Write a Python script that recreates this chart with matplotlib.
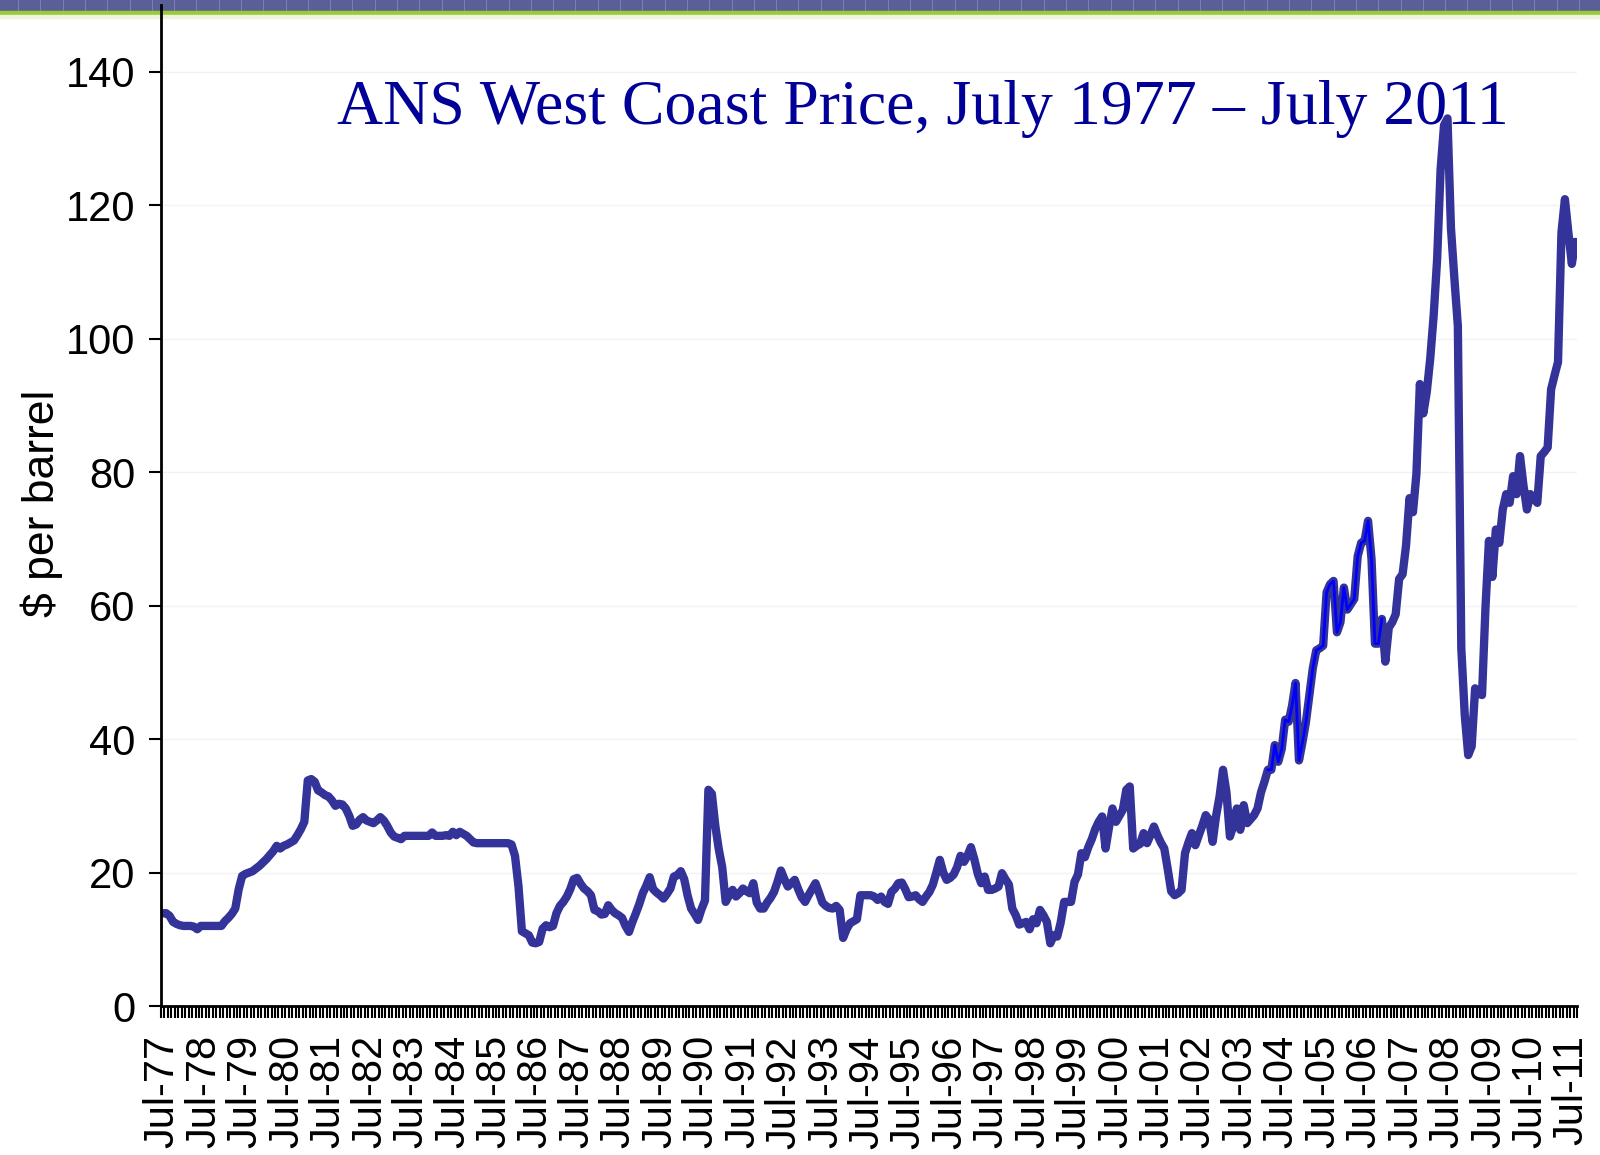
import numpy as np
import pandas as pd
import matplotlib
matplotlib.use('Agg')
import matplotlib.pyplot as plt
from matplotlib.patches import Rectangle
from matplotlib.lines import Line2D

# monthly ANS West Coast price ($/bbl), starting Jul-77
price_77_86 = [13.9, 13.9, 13.5, 12.6, 12.3, 12.1, 12.0, 12.0, 12.0, 11.9, 11.5, 12.0,
               12.0, 12.0, 12.0, 12.0, 12.0, 12.0, 12.7, 13.2, 13.8, 14.6, 17.5, 19.5,
               19.8, 20.0, 20.2, 20.6, 21.0, 21.5, 22.0, 22.6, 23.2, 24.0, 23.6, 24.0,
               24.2, 24.5, 24.8, 25.6, 26.5, 27.6, 33.8, 34.0, 33.6, 32.3, 32.0, 31.6,
               31.4, 30.8, 30.0, 30.3, 30.2, 29.6, 28.5, 27.0, 27.2, 27.9, 28.3, 27.8,
               27.6, 27.4, 27.8, 28.3, 27.8, 27.0, 26.0, 25.4, 25.2, 25.0, 25.5, 25.5,
               25.5, 25.5, 25.5, 25.5, 25.5, 25.5, 26.0, 25.5, 25.5, 25.5, 25.6, 25.5,
               26.1, 25.6, 26.1, 25.8, 25.5, 25.0, 24.5, 24.4, 24.4, 24.4, 24.4, 24.4,
               24.4, 24.4, 24.4, 24.4, 24.4, 24.2, 22.5, 18.0, 11.2, 10.9, 10.6, 9.5]
price_86_95 = [9.4, 9.6, 11.6, 12.1, 11.8, 12.0, 13.9, 15.0, 15.6, 16.4, 17.5, 19.0,
               19.2, 18.3, 17.6, 17.2, 16.6, 14.4, 14.2, 13.7, 13.8, 15.1, 14.4, 13.9,
               13.6, 13.2, 12.0, 11.1, 12.6, 13.9, 15.3, 16.9, 18.0, 19.3, 17.5, 17.0,
               16.6, 16.1, 16.8, 17.6, 19.4, 19.6, 20.2, 19.0, 16.5, 14.6, 13.8, 12.9,
               14.5, 15.8, 32.4, 31.8, 27.0, 23.5, 20.8, 15.6, 16.6, 17.4, 16.4, 16.9,
               17.6, 17.2, 16.9, 18.4, 15.5, 14.6, 14.6, 15.5, 16.2, 17.1, 18.6, 20.3,
               19.0, 17.9, 18.4, 18.9, 17.5, 16.3, 15.6, 16.6, 17.5, 18.4, 17.0, 15.5,
               15.0, 14.7, 14.6, 15.0, 14.4, 10.2, 11.5, 12.4, 12.7, 13.0, 16.6, 16.6,
               16.6, 16.6, 16.4, 15.9, 16.4, 15.6, 15.3, 17.1, 17.6, 18.4, 18.5, 17.5]
price_95_04 = [16.3, 16.4, 16.6, 16.0, 15.6, 16.4, 17.1, 18.2, 20.0, 21.9, 20.0, 18.9,
               19.2, 19.7, 20.8, 22.5, 21.6, 22.5, 23.8, 22.0, 19.8, 18.4, 19.4, 17.4,
               17.4, 17.6, 17.9, 19.9, 19.0, 18.2, 14.6, 13.6, 12.2, 12.4, 12.6, 11.5,
               13.0, 12.4, 14.4, 13.6, 12.6, 9.4, 10.6, 10.4, 12.5, 15.6, 15.6, 15.6,
               18.6, 19.7, 22.9, 22.3, 23.8, 25.0, 26.5, 27.6, 28.4, 23.6, 26.8, 29.6,
               27.6, 28.5, 29.4, 32.4, 32.9, 23.6, 24.0, 24.3, 25.9, 24.4, 25.6, 26.9,
               25.6, 24.5, 23.6, 20.5, 17.2, 16.6, 16.9, 17.4, 22.9, 24.5, 25.9, 24.1,
               25.6, 27.0, 28.6, 27.9, 24.6, 28.5, 31.4, 35.4, 32.0, 25.4, 27.0, 29.6,
               26.4, 30.1, 27.4, 28.0, 28.6, 29.6, 32.0, 33.6, 35.4, 35.4, 39.1, 36.6]
price_04_11 = [38.5, 42.9, 42.6, 45.0, 48.4, 36.8, 39.5, 42.5, 46.5, 50.6, 53.3, 53.6,
               54.0, 62.0, 63.2, 63.7, 56.0, 57.5, 62.7, 59.4, 60.2, 61.0, 67.4, 69.4,
               69.7, 72.7, 67.0, 54.3, 54.3, 58.0, 51.6, 56.7, 57.5, 58.7, 64.0, 64.7,
               69.0, 76.1, 74.0, 79.7, 93.2, 88.8, 92.0, 97.0, 103.5, 111.9, 125.3, 132.0,
               133.0, 116.6, 109.0, 101.9, 53.6, 43.6, 37.6, 38.9, 47.6, 46.8, 46.6, 59.7,
               69.7, 64.3, 71.4, 69.4, 74.4, 76.7, 75.4, 79.4, 76.7, 82.4, 78.0, 74.4,
               76.7, 76.0, 75.4, 82.4, 83.0, 83.7, 92.4, 94.5, 96.5, 115.9, 120.9, 115.9,
               111.2, 114.5]

prices = np.array(price_77_86 + price_86_95 + price_95_04 + price_04_11)
months = pd.date_range('1977-07-01', periods=len(prices), freq='MS')
x = np.arange(len(prices))
year_labels = [d.strftime('%b-%y') for d in months[::12]]
y_ticks = [0, 20, 40, 60, 80, 100, 120, 140]
title = 'ANS West Coast Price, July 1977 \u2013 July 2011'

W, H = 1600, 1155
fig = plt.figure(figsize=(W / 100, H / 100), dpi=100)

# slide header stripe
fig.add_artist(Rectangle((0, 1 - 11 / H), 1, 11 / H, transform=fig.transFigure,
                         color='#5b5f97', zorder=0))
for xs in np.arange(18, W, 22.3):
    fig.add_artist(Line2D([xs / W, xs / W], [1 - 11 / H, 1], transform=fig.transFigure,
                          color='#7b7fb0', lw=0.8, zorder=0))
fig.add_artist(Rectangle((0, 1 - 15 / H), 1, 4 / H, transform=fig.transFigure,
                         color='#99cc33', zorder=0))
fig.add_artist(Rectangle((0, 1 - 18 / H), 1, 3 / H, transform=fig.transFigure,
                         color='#eef3e0', zorder=0))

ax = fig.add_axes([161 / W, 1 - 1006 / H, (1577 - 161) / W, (1006 - 5) / H])
ax.set_facecolor('none')

ax.plot(x, prices, color='#333399', lw=6, solid_joinstyle='round',
        solid_capstyle='round', zorder=3)
ax.plot(x[320:354], prices[320:354], color='#0000ff', lw=2,
        solid_joinstyle='round', zorder=4)

ax.set_xlim(-0.5, len(prices) - 0.5)
ax.set_ylim(0, 150)

ax.set_yticks(y_ticks)
ax.set_yticklabels([str(v) for v in y_ticks], fontsize=30, family='Liberation Sans')
ax.tick_params(axis='y', length=8.6, width=1.5, pad=10, colors='black')

ax.set_xticks(x[::12])
ax.set_xticklabels(year_labels, rotation=90, fontsize=30, family='Liberation Sans')
ax.set_xticks(np.arange(-0.5, len(prices), 1), minor=True)
ax.tick_params(axis='x', which='major', length=0, pad=21)
ax.tick_params(axis='x', which='minor', length=8.6, width=1.5)

for s in ['top', 'right']:
    ax.spines[s].set_visible(False)
for s in ['left', 'bottom']:
    ax.spines[s].set_linewidth(2)
    ax.spines[s].set_zorder(5)

ax.yaxis.grid(True, color='#f2f2f2', lw=1)
ax.set_axisbelow(True)

ax.set_ylabel('$ per barrel', fontsize=32, family='Liberation Sans')
ax.yaxis.set_label_coords(-0.069, 0.502)

fig.text(337 / W, 1 - 124 / H, title, family='Liberation Serif', fontsize=46,
         color='#000099', ha='left', va='baseline')

fig.savefig('out.png', dpi=100)
